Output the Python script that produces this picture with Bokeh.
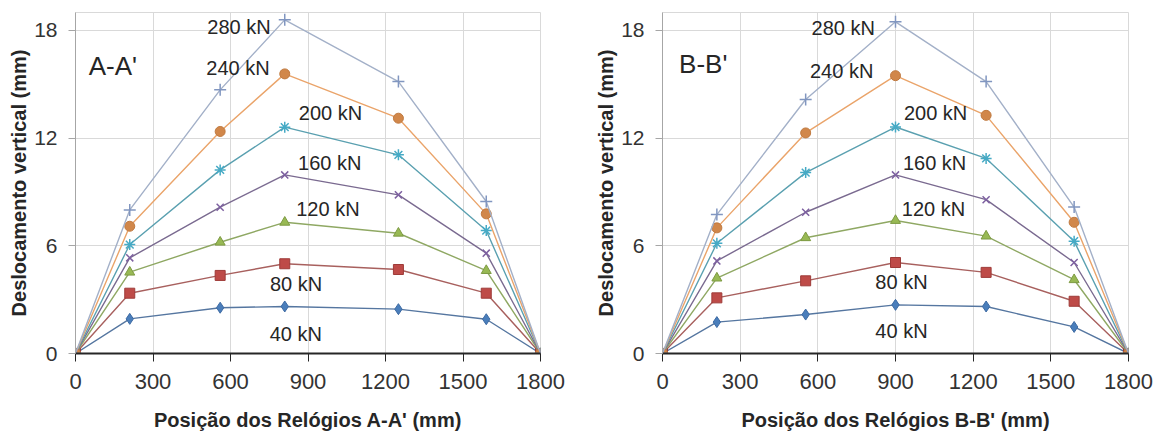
from bokeh.plotting import figure
from bokeh.layouts import row
from bokeh.models import Range1d, FixedTicker, ColumnDataSource
from bokeh.core.properties import value
from bokeh.embed import file_html
from bokeh.resources import INLINE

# ---------------- data ----------------
loads = ["40 kN", "80 kN", "120 kN", "160 kN", "200 kN", "240 kN", "280 kN"]

pos_A = [0, 210, 560, 810, 1250, 1590, 1800]
A_40 = [0, 1.93, 2.55, 2.62, 2.47, 1.91, 0]
A_80 = [0, 3.36, 4.35, 5.00, 4.68, 3.36, 0]
A_120 = [0, 4.53, 6.20, 7.31, 6.70, 4.62, 0]
A_160 = [0, 5.33, 8.15, 9.95, 8.84, 5.59, 0]
A_200 = [0, 6.07, 10.23, 12.61, 11.07, 6.85, 0]
A_240 = [0, 7.09, 12.37, 15.58, 13.11, 7.78, 0]
A_280 = [0, 8.00, 14.69, 18.59, 15.15, 8.47, 0]

pos_B = [0, 210, 553, 900, 1250, 1590, 1800]
B_40 = [0, 1.75, 2.17, 2.71, 2.62, 1.48, 0]
B_80 = [0, 3.10, 4.05, 5.07, 4.52, 2.91, 0]
B_120 = [0, 4.20, 6.45, 7.41, 6.54, 4.11, 0]
B_160 = [0, 5.16, 7.87, 9.95, 8.57, 5.07, 0]
B_200 = [0, 6.14, 10.08, 12.62, 10.87, 6.26, 0]
B_240 = [0, 7.00, 12.29, 15.48, 13.27, 7.31, 0]
B_280 = [0, 7.74, 14.15, 18.48, 15.15, 8.16, 0]

x_ticks = [0, 300, 600, 900, 1200, 1500, 1800]
y_ticks = [0, 6, 12, 18]

title_A = "Posição dos Relógios A-A' (mm)"
title_B = "Posição dos Relógios B-B' (mm)"
y_title = "Deslocamento vertical (mm)"

# ---------------- layout / style (not data) ----------------
lab_A_x = [853, 854, 977, 984, 987, 629, 633]
lab_A_y = [1.09, 3.87, 8.04, 10.63, 13.40, 15.89, 18.19]
lab_B_x = [923, 923, 1047, 1051, 1055, 692, 698]
lab_B_y = [1.23, 3.97, 8.03, 10.62, 13.39, 15.74, 18.14]

styles = [
    # marker, size, fill, marker line, line colour
    ("diamond", 11, "#4a7ebb", "#3d6aa3", "#5576a0"),
    ("square", 10, "#be4b48", "#9e3b38", "#a8605e"),
    ("triangle", 10, "#98b954", "#7d9a42", "#8fa863"),
    ("x", 10, None, "#7d60a0", "#7a6a90"),
    ("asterisk", 11, None, "#46aac5", "#5aa0b0"),
    ("circle", 10, "#d1874a", "#c07a40", "#eaa46a"),
    ("cross", 12, None, "#8196c0", "#a3b0c8"),
]

FONT = "Liberation Sans"
TXT = "#262626"


def make_fig(xs, series, xtitle, lab_x, lab_y, tag, tag_x, tag_y,
             width, mb_left, mb_right, mb_top, mb_bottom):
    p = figure(width=width, height=435,
               x_range=Range1d(0, 1800), y_range=Range1d(0, 19),
               output_backend="svg", toolbar_location=None,
               min_border_left=mb_left, min_border_right=mb_right,
               min_border_top=mb_top, min_border_bottom=mb_bottom,
               background_fill_color="white", border_fill_color="white")
    p.outline_line_color = "#d9d9d9"
    p.grid.grid_line_color = "#d9d9d9"
    p.grid.grid_line_width = 1

    p.xaxis.ticker = FixedTicker(ticks=x_ticks)
    p.yaxis.ticker = FixedTicker(ticks=y_ticks)
    p.xaxis.axis_label = xtitle
    p.yaxis.axis_label = y_title
    for ax in (p.xaxis, p.yaxis):
        ax.axis_label_text_font = FONT
        ax.axis_label_text_font_style = "bold"
        ax.axis_label_text_font_size = "20px"
        ax.axis_label_text_color = TXT
        ax.major_label_text_font = FONT
        ax.major_label_text_color = "#333333"
        ax.minor_tick_in = 0
        ax.minor_tick_out = 0
        ax.major_tick_in = 0
    p.xaxis.major_label_text_font_size = "22px"
    p.yaxis.major_label_text_font_size = "21px"
    p.xaxis.axis_line_color = "#262626"
    p.xaxis.axis_line_width = 2
    p.xaxis.major_tick_line_color = "#262626"
    p.xaxis.major_tick_out = 8
    p.xaxis.major_label_standoff = 12
    p.xaxis.axis_label_standoff = 17
    p.yaxis.axis_line_color = "#a6a6a6"
    p.yaxis.major_tick_line_color = "#a6a6a6"
    p.yaxis.major_tick_out = 7
    p.yaxis.major_label_standoff = 11
    p.yaxis.axis_label_standoff = 1

    for ys, (mk, size, fill, mline, lcol) in zip(series, styles):
        src = ColumnDataSource(dict(x=xs, y=ys))
        p.line("x", "y", source=src, line_color=lcol, line_width=1.4)
        if fill is None:
            p.scatter("x", "y", source=src, marker=mk, size=size,
                      fill_color=None, line_color=mline, line_width=1.5)
        else:
            p.scatter("x", "y", source=src, marker=mk, size=size,
                      fill_color=fill, line_color=mline, line_width=1)

    lsrc = ColumnDataSource(dict(x=lab_x, y=lab_y, t=loads))
    p.text("x", "y", text="t", source=lsrc, text_font=value(FONT),
           text_font_size="20px", text_color=TXT,
           text_align="center", text_baseline="middle")
    tsrc = ColumnDataSource(dict(x=[tag_x], y=[tag_y], t=[tag]))
    p.text("x", "y", text="t", source=tsrc, text_font=value(FONT),
           text_font_size="26px", text_color=TXT,
           text_align="left", text_baseline="middle")
    return p


pA = make_fig(pos_A, [A_40, A_80, A_120, A_160, A_200, A_240, A_280], title_A,
              lab_A_x, lab_A_y, "A-A'", 51, 16.04,
              588, 75, 48, 11, 82)
pB = make_fig(pos_B, [B_40, B_80, B_120, B_160, B_200, B_240, B_280], title_B,
              lab_B_x, lab_B_y, "B-B'", 64, 16.11,
              575, 74, 35, 12, 80)

layout = row(pA, pB)
open("out.html", "w").write(file_html(layout, INLINE))
